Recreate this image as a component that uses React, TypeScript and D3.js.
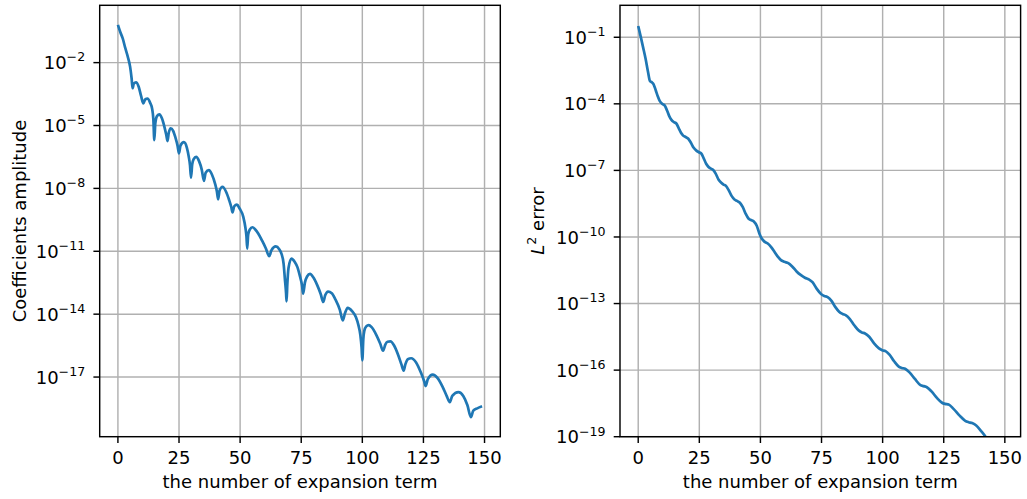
import React from 'react';
import * as d3 from 'd3';

// expansion term index and |coefficient|
const coefTerms = [
  0, 1, 2, 3, 4, 5, 5.6, 6.0, 6.5, 7.4, 8.5, 9.5, 10.4, 11.2, 12.1, 13.2, 14.0, 14.5, 14.9, 15.3,
  16, 17, 18, 19, 19.8, 20.3, 20.8, 21.6, 22.6, 23.6, 24.4, 25.0, 25.6, 27.0, 28.2, 29.0, 29.5, 29.9,
  30.4, 31.0, 32.0, 33.2, 34.3, 35.2, 35.9, 37.2, 38.5, 39.8, 40.5, 41.0, 41.6, 42.8, 44.2, 45.5,
  46.4, 46.9, 47.6, 48.7, 49.8, 51.3, 52.2, 52.6, 52.9, 53.3, 54.0, 55.0, 56.2, 57.4, 59.0, 60.5,
  61.9, 62.8, 64.6, 66.0, 66.9, 67.8, 68.3, 68.8, 69.0, 69.3, 69.8, 71.0, 72.3, 73.4, 74.5, 75.3,
  75.8, 76.5, 77.4, 78.6, 80.0, 81.5, 83.0, 84.0, 84.8, 86.0, 87.5, 89.0, 90.8, 92.0, 92.9, 94.0,
  95.8, 97.4, 98.4, 99.2, 99.7, 100.0, 100.4, 100.8, 101.6, 102.6, 103.8, 105.8, 107.3, 108.5,
  109.4, 110.3, 111.5, 113.0, 114.7, 116.0, 116.9, 117.6, 118.6, 120.0, 122.0, 124.0, 125.3, 125.9,
  126.8, 128.8, 130.8, 132.8, 134.5, 135.8, 136.8, 139.3, 141.3, 143.0, 144.4, 145.4, 147.0, 149.0,
];
const coefAmplitude = [
  6.3e-1, 2.8e-1, 1.4e-1, 5.0e-2, 2.0e-2, 6.3e-3, 1.8e-3, 6.0e-4, 1.0e-3, 1.15e-3, 7.1e-4, 2.5e-4,
  1.15e-4, 1.8e-4, 1.9e-4, 1.2e-4, 6.3e-5, 2.0e-5, 2.0e-6, 1.26e-5,
  2.8e-5, 3.4e-5, 2.2e-5, 8.9e-6, 3.5e-6, 1.8e-6, 4.5e-6, 7.4e-6, 5.6e-6, 2.5e-6, 1.1e-6, 4.7e-7,
  1.1e-6, 1.6e-6, 8.9e-7, 3.2e-7, 1.26e-7, 3.3e-8,
  1.4e-7, 2.5e-7, 3.2e-7, 2.0e-7, 7.9e-8, 2.3e-8, 5.6e-8, 7.4e-8, 4.5e-8, 1.6e-8, 7.1e-9, 3.0e-9,
  7.9e-9, 1.2e-8, 7.1e-9, 2.8e-9,
  1.26e-9, 7.1e-10, 1.4e-9, 1.7e-9, 1.1e-9, 4.4e-10, 1.26e-10, 5.0e-11, 1.35e-11, 6.3e-11, 1.1e-10,
  1.4e-10, 1.1e-10, 7.1e-11, 3.2e-11, 1.4e-11,
  5.8e-12, 1.1e-11, 1.7e-11, 1.26e-11, 7.8e-12, 2.5e-12, 5.0e-13, 1.0e-13, 4.1e-14, 2.5e-13, 1.6e-12,
  4.5e-12, 3.2e-12, 1.8e-12, 6.3e-13, 2.5e-13,
  9.5e-14, 3.2e-13, 6.3e-13, 8.3e-13, 5.6e-13, 2.5e-13, 8.9e-14, 3.8e-14, 7.9e-14, 1.2e-13, 1.0e-13,
  5.0e-14, 1.6e-14, 5.0e-15, 1.1e-14, 2.0e-14,
  1.4e-14, 7.1e-15, 3.0e-15, 1.0e-15, 2.5e-16, 6.3e-17, 6.3e-16, 1.6e-15, 2.6e-15, 3.0e-15, 2.4e-15,
  9.8e-16, 4.0e-16, 1.8e-16,
  3.5e-16, 4.8e-16, 5.0e-16, 3.2e-16, 1.1e-16, 4.0e-17, 2.0e-17, 4.0e-17, 7.1e-17, 7.9e-17, 5.0e-17,
  1.6e-17, 6.3e-18, 3.7e-18,
  7.9e-18, 1.3e-17, 8.9e-18, 3.5e-18, 1.26e-18, 6.3e-19, 1.26e-18, 1.9e-18, 1.26e-18, 4.5e-19,
  1.23e-19, 2.5e-19, 3.2e-19, 4.0e-19,
];

// expansion term index and L2 error
const errTerms = [
  0, 1, 2, 3, 4, 4.8, 5.5, 6.3, 7.2, 8.0, 8.8, 9.8, 10.8, 11.8, 12.7, 13.6, 14.6, 15.6, 16.6, 17.5,
  18.3, 19.4, 20.4, 21.5, 22.7, 23.8, 24.8, 25.8, 26.8, 27.8, 28.6, 29.6, 30.6, 31.7, 32.9, 34.0,
  34.9, 35.9, 37.0, 38.2, 39.4, 40.4, 41.6, 42.8, 44.0, 45.1, 46.2, 47.3, 48.5, 49.6, 50.6, 51.8,
  53.0, 54.4, 55.8, 57.2, 58.4, 59.8, 61.4, 63.0, 64.8, 66.6, 68.2, 69.8, 71.4, 73.0, 74.8, 76.1,
  77.5, 79.0, 80.6, 82.2, 83.6, 85.0, 86.6, 88.4, 90.3, 91.5, 92.8, 94.5, 96.5, 98.5, 99.8, 101.2,
  102.8, 104.7, 106.6, 107.9, 109.2, 111.0, 113.2, 115.5, 116.8, 118.1, 120.0, 122.2, 124.3, 125.6,
  127.0, 129.0, 131.5, 133.8, 135.2, 136.6, 138.3, 140.3, 142.3, 144.0,
];
const errValues = [
  3.2e-1, 1.1e-1, 3.5e-2, 1.1e-2, 2.8e-3, 1.07e-3, 9.5e-4, 7.6e-4, 4.0e-4, 2.2e-4, 1.35e-4, 1.0e-4,
  8.5e-5, 5.0e-5, 2.8e-5, 1.9e-5, 1.5e-5, 1.3e-5, 7.9e-6, 5.0e-6,
  3.8e-6, 3.2e-6, 2.75e-6, 1.8e-6, 1.05e-6, 7.8e-7, 6.6e-7, 5.8e-7, 3.5e-7, 2.0e-7, 1.5e-7, 1.23e-7,
  1.07e-7, 7.1e-8, 3.8e-8, 2.75e-8,
  2.3e-8, 2.0e-8, 1.3e-8, 7.1e-9, 4.9e-9, 4.2e-9, 3.5e-9, 2.2e-9, 1.1e-9, 6.8e-10, 5.8e-10, 5.0e-10,
  3.2e-10, 1.4e-10, 8.3e-11, 6.0e-11,
  5.1e-11, 3.5e-11, 2.1e-11, 1.26e-11, 9.1e-12, 7.6e-12, 6.6e-12, 4.7e-12, 2.8e-12, 1.9e-12, 1.45e-12,
  1.23e-12, 8.9e-13, 4.7e-13, 2.7e-13, 2.2e-13,
  1.95e-13, 1.35e-13, 7.1e-14, 4.3e-14, 3.4e-14, 2.95e-14, 2.0e-14, 1.05e-14, 6.0e-15, 5.0e-15,
  4.5e-15, 3.2e-15, 1.6e-15, 9.5e-16, 7.9e-16, 7.2e-16,
  5.0e-16, 2.5e-16, 1.45e-16, 1.26e-16, 1.15e-16, 7.9e-17, 4.0e-17, 2.1e-17, 1.9e-17, 1.7e-17,
  1.1e-17, 5.6e-18, 3.4e-18, 3.0e-18,
  2.8e-18, 1.8e-18, 8.9e-19, 5.2e-19, 4.5e-19, 4.1e-19, 3.2e-19, 1.8e-19, 9.3e-20, 4.5e-20,
];

const xTicks = [0, 25, 50, 75, 100, 125, 150];
const coefTickExp = [-2, -5, -8, -11, -14, -17];
const errTickExp = [-1, -4, -7, -10, -13, -16, -19];
const xLabel = 'the number of expansion term';

const FONT = 'DejaVu Sans, sans-serif';
const FS = 18;
const SUP = 12.6;
const BLUE = '#1f77b4';
const GRID = '#b0b0b0';
const LW = 1.44;
const TICK = 6.3;
const TOP = 5.3;
const BOTTOM = 436.7;

// matplotlib-style 5% padding
const padLin = ([a, b]: number[]) => {
  const p = (b - a) * 0.05;
  return [a - p, b + p];
};
const padLog = ([a, b]: number[]) => {
  const la = Math.log10(a), lb = Math.log10(b);
  const p = (lb - la) * 0.05;
  return [10 ** (la - p), 10 ** (lb + p)];
};

const xDomain = padLin(d3.extent(coefTerms) as number[]);

type PanelProps = {
  id: string;
  x0: number;
  x1: number;
  terms: number[];
  values: number[];
  yDomain: number[];
  tickExp: number[];
  ylabel: React.ReactNode;
  ylabelX: number;
};

function Panel({ id, x0, x1, terms, values, yDomain, tickExp, ylabel, ylabelX }: PanelProps) {
  const x = d3.scaleLinear().domain(xDomain).range([x0, x1]);
  const y = d3.scaleLog().domain(yDomain).range([BOTTOM, TOP]);
  const pts = terms.map((t, i) => [t, values[i]] as [number, number]);
  const path = d3.line<[number, number]>()
    .x(d => x(d[0]))
    .y(d => y(d[1]))
    .curve(d3.curveMonotoneX)(pts) || '';
  const cx = (x0 + x1) / 2;
  const cy = (TOP + BOTTOM) / 2;

  return (
    <g>
      <defs>
        <clipPath id={id}>
          <rect x={x0} y={TOP} width={x1 - x0} height={BOTTOM - TOP} />
        </clipPath>
      </defs>
      {/* grid */}
      {xTicks.map(t => (
        <line key={'gx' + t} x1={x(t)} x2={x(t)} y1={TOP} y2={BOTTOM} stroke={GRID} strokeWidth={LW} />
      ))}
      {tickExp.map(e => (
        <line key={'gy' + e} x1={x0} x2={x1} y1={y(10 ** e)} y2={y(10 ** e)} stroke={GRID} strokeWidth={LW} />
      ))}
      <path d={path} fill="none" stroke={BLUE} strokeWidth={2.7} strokeLinejoin="round"
        clipPath={`url(#${id})`} />
      {/* spines */}
      <rect x={x0} y={TOP} width={x1 - x0} height={BOTTOM - TOP} fill="none" stroke="#000" strokeWidth={LW} />
      {/* x ticks */}
      {xTicks.map(t => (
        <g key={'tx' + t}>
          <line x1={x(t)} x2={x(t)} y1={BOTTOM} y2={BOTTOM + TICK} stroke="#000" strokeWidth={LW} />
          <text x={x(t)} y={463.8} textAnchor="middle" fontSize={FS} fontFamily={FONT}>{t}</text>
        </g>
      ))}
      {/* y ticks */}
      {tickExp.map(e => {
        const ty = y(10 ** e);
        return (
          <g key={'ty' + e}>
            <line x1={x0 - TICK} x2={x0} y1={ty} y2={ty} stroke="#000" strokeWidth={LW} />
            <text x={x0 - 14.5} y={ty + 6.6} textAnchor="end" fontSize={FS} fontFamily={FONT}>
              10<tspan dy={-7.8} fontSize={SUP}>{'\u2212' + Math.abs(e)}</tspan>
            </text>
          </g>
        );
      })}
      <text x={cx} y={488.3} textAnchor="middle" fontSize={FS} fontFamily={FONT}>{xLabel}</text>
      <text transform={`translate(${ylabelX},${cy}) rotate(-90)`} textAnchor="middle" fontSize={FS} fontFamily={FONT}>
        {ylabel}
      </text>
    </g>
  );
}

export default function App() {
  const coefDomain = padLog(d3.extent(coefAmplitude) as number[]);
  const errDomain = [1e-19, 10 ** 0.44];
  return (
    <div style={{ position: 'absolute', left: 0, top: 0 }}>
      <svg width={1027} height={499} style={{ display: 'block', background: '#fff' }}>
        <Panel id="clipL" x0={99.7} x1={500.3} terms={coefTerms} values={coefAmplitude}
          yDomain={coefDomain} tickExp={coefTickExp} ylabel="Coefficients amplitude" ylabelX={25.5} />
        <Panel id="clipR" x0={620} x1={1020.6} terms={errTerms} values={errValues}
          yDomain={errDomain} tickExp={errTickExp} ylabelX={543.5}
          ylabel={<><tspan fontStyle="italic">L</tspan><tspan dy={-8} fontSize={SUP}>2</tspan><tspan dy={8}> error</tspan></>} />
      </svg>
    </div>
  );
}
